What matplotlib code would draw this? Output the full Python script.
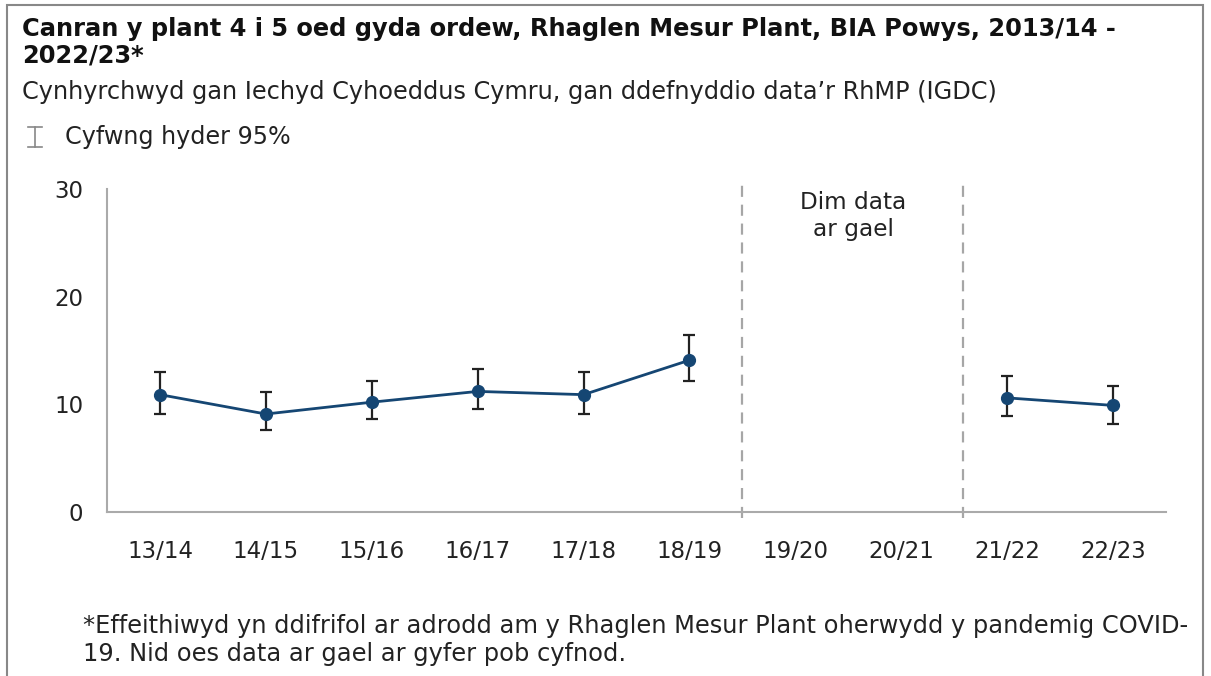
import matplotlib
matplotlib.use("Agg")
import matplotlib.pyplot as plt
from matplotlib.patches import Rectangle
import numpy as np

categories = ["13/14", "14/15", "15/16", "16/17", "17/18", "18/19", "19/20", "20/21", "21/22", "22/23"]
values = [10.9, 9.1, 10.2, 11.2, 10.9, 14.1, None, None, 10.6, 9.9]
ci_low = [9.1, 7.6, 8.6, 9.6, 9.1, 12.2, None, None, 8.9, 8.2]
ci_high = [13.0, 11.1, 12.2, 13.3, 13.0, 16.4, None, None, 12.6, 11.7]
yticks = [0, 10, 20, 30]

title = "Canran y plant 4 i 5 oed gyda ordew, Rhaglen Mesur Plant, BIA Powys, 2013/14 -\n2022/23*"
subtitle = "Cynhyrchwyd gan Iechyd Cyhoeddus Cymru, gan ddefnyddio data\u2019r RhMP (IGDC)"
legend_label = "Cyfwng hyder 95%"
gap_label = "Dim data\nar gael"
footnote = ("*Effeithiwyd yn ddifrifol ar adrodd am y Rhaglen Mesur Plant oherwydd y pandemig COVID-\n"
            "19. Nid oes data ar gael ar gyfer pob cyfnod.")

plt.rcParams['font.family'] = ['DejaVu Sans']

fig = plt.figure(figsize=(12.11, 6.76), dpi=100)
ax = fig.add_axes([107/1211, 1-512/676, (1166-107)/1211, (512-189)/676])

line_col = '#154673'
x = np.arange(len(categories))
segments = [[0, 1, 2, 3, 4, 5], [8, 9]]
for seg in segments:
    xs = [x[i] for i in seg]
    ys = [values[i] for i in seg]
    lo = [values[i] - ci_low[i] for i in seg]
    hi = [ci_high[i] - values[i] for i in seg]
    ax.errorbar(xs, ys, yerr=[lo, hi], fmt='none', ecolor='#222222', elinewidth=1.6,
                capsize=4.5, capthick=1.6, zorder=2)
    ax.plot(xs, ys, color=line_col, lw=2, marker='o', ms=8.5, zorder=3)

ax.set_xlim(-0.5, len(categories) - 0.5)
ax.set_ylim(0, 30)
ax.set_yticks(yticks)
ax.set_xticks(x)
ax.set_xticklabels(categories)
ax.tick_params(axis='both', length=0, labelsize=16.5, colors='#222222')
ax.tick_params(axis='x', pad=20)
ax.tick_params(axis='y', pad=17)
for s in ['top', 'right']:
    ax.spines[s].set_visible(False)
for s in ['left', 'bottom']:
    ax.spines[s].set_color('#aaaaaa')
    ax.spines[s].set_linewidth(1.5)

for xv in [5.5, 7.58]:
    ax.axvline(xv, ymin=-0.02, ymax=1.02, color='#a6a6a6', lw=1.6, ls=(0, (5, 3.5)), clip_on=False)
ax.text(6.55, 29.8, gap_label, ha='center', va='top', fontsize=16.7, color='#222222', linespacing=1.2)

# Titles
fig.text(22/1211, 1-17/676, title, ha='left', va='top', fontsize=17.4, fontweight='bold',
         color='#111111', linespacing=1.12)
fig.text(22/1211, 1-92/676, subtitle, ha='left', va='center', fontsize=17.3, color='#222222')
# Legend
lx, ly = 35/1211, 1-137/676
fig.add_artist(plt.Line2D([lx, lx], [ly - 10/676, ly + 10/676], color='#888888', lw=1.2, transform=fig.transFigure))
for dy in [-10/676, 10/676]:
    fig.add_artist(plt.Line2D([lx - 7/1211, lx + 7/1211], [ly + dy, ly + dy], color='#888888', lw=1.2,
                              transform=fig.transFigure))
fig.text(65/1211, ly, legend_label, ha='left', va='center', fontsize=17.2, color='#222222')

fig.text(83/1211, 1-640/676, footnote, ha='left', va='center', fontsize=17.4, color='#222222', linespacing=1.2)

# Frame
fig.add_artist(Rectangle((7/1211, -0.05), (1203-7)/1211, 1.05 - 5/676, transform=fig.transFigure,
                         fill=False, edgecolor='#888888', lw=1.5))

fig.savefig("out.png", dpi=100)
